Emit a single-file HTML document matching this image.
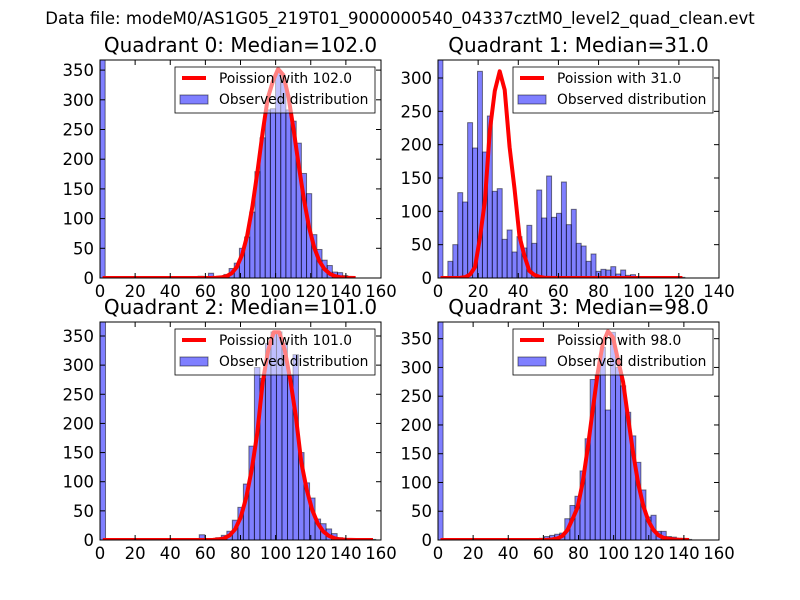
<!DOCTYPE html>
<html><head><meta charset="utf-8"><style>
body{margin:0;background:#fff;}
svg{display:block;font-family:"DejaVu Sans","Liberation Sans",sans-serif;}
</style></head><body>
<svg id="fig" width="800" height="600" viewBox="0 0 800 600">
<rect width="800" height="600" fill="#fff"/>
<text x="400" y="24" font-size="16.5" text-anchor="middle">Data file: modeM0/AS1G05_219T01_9000000540_04337cztM0_level2_quad_clean.evt</text>
</svg>
<script>
// Panel data
const medians = [102, 31, 101, 98];
const binWidths = [2.94, 2.46, 3.14, 2.888];
const xMaxes = [160, 140, 160, 160];
const yMaxes = [367, 327, 374, 379];
const yTickStops = [350, 300, 350, 350];
const curvePeaks = [352, 310, 360, 363];
const counts0 = [367,0,0,0,0,0,0,0,0,0,0,0,0,0,0,0,0,2,2,3,0,8,0,0,6,16,25,50,69,111,179,236,283,285,347,330,283,264,227,176,142,73,48,30,21,10,9,4,0,0];
const counts1 = [327,0,25,50,128,114,233,195,310,189,243,130,134,58,72,39,62,45,79,52,132,90,153,91,97,144,80,103,52,48,25,36,10,13,12,17,6,12,4,5,1,1,0,0,2,1,0,0,0,1];
const counts2 = [374,0,0,0,0,0,0,0,0,0,0,0,0,0,0,0,0,0,9,0,0,4,8,15,34,56,96,161,296,277,337,357,357,337,283,318,150,98,72,36,28,19,11,4,2,1,1,1,1,1];
const counts3 = [379,0,0,0,0,0,0,0,0,0,0,0,0,0,0,0,0,0,0,0,3,6,8,10,12,37,60,76,120,176,279,287,335,226,361,300,268,222,181,135,87,40,43,15,15,6,5,3,2,1];
const allCounts = [counts0, counts1, counts2, counts3];

const NS = "http://www.w3.org/2000/svg";
const svg = document.getElementById('fig');
function mk(tag, attrs, parent){
  const e = document.createElementNS(NS, tag);
  for (const k in attrs) e.setAttribute(k, attrs[k]);
  (parent||svg).appendChild(e);
  return e;
}
function logPmf(k, lam){
  let s = k*Math.log(lam) - lam;
  for (let i=2;i<=k;i++) s -= Math.log(i);
  return s;
}
const boxes = [[100,60],[438,60],[100,322],[438,322]];
const W = 281, H = 218;
for (let p=0;p<4;p++){
  const [L,T] = boxes[p];
  const g = mk('g', {});
  
  
  const xs = v => L + v/xMaxes[p]*W;
  const ys = v => T+H - Math.min(v, yMaxes[p])/yMaxes[p]*H;
  const t = mk('text', {x: L+W/2, y: T-8, 'font-size': 20, 'text-anchor':'middle'}, g);
  t.textContent = 'Quadrant '+p+': Median='+medians[p].toFixed(1);
  
  
  const clip = mk('clipPath', {id:'c'+p}, g);
  mk('rect', {x:L, y:T, width:W, height:H}, clip);
  const bars = mk('g', {'clip-path':'url(#c'+p+')'}, g);
  const w = binWidths[p];
  allCounts[p].forEach((c,i)=>{
    if (c<=0) return;
    const r = mk('rect', {x: xs(i*w), y: ys(c), width: xs((i+1)*w)-xs(i*w), height: T+H-ys(c), fill:'rgba(0,0,255,0.5)', stroke:'rgba(0,0,0,0.5)', 'stroke-width':1}, bars);
    
    
  });
  const lam = medians[p];
  const peakLog = logPmf(Math.floor(lam), lam);
  let pts = [];
  for (let i=0;i<allCounts[p].length;i++){
    const xc = i*w + w/2;
    const v = curvePeaks[p]*Math.exp(logPmf(Math.round(xc), lam) - peakLog);
    pts.push(xs(xc).toFixed(1)+','+ys(v).toFixed(1));
  }
  const pl = mk('polyline', {points: pts.join(' '), fill:'none', stroke:'#ff0000', 'stroke-width':4, 'stroke-linejoin':'round'}, bars);
  
  
  const fr = mk('rect', {x:L, y:T, width:W, height:H, fill:'none', stroke:'#000', 'stroke-width':1}, g);
  
  
  for (let v=0; v<=xMaxes[p]; v+=20){
    const x = xs(v);
    mk('line', {x1:x, x2:x, y1:T+H, y2:T+H-5, stroke:'#000'}, g);
    mk('line', {x1:x, x2:x, y1:T, y2:T+5, stroke:'#000'}, g);
    const tl = mk('text', {x:x, y:T+H+19, 'font-size':16.5, 'text-anchor':'middle'}, g);
    tl.textContent = v;
    
    
  }
  for (let v=0; v<=yTickStops[p]; v+=50){
    const y = ys(v);
    mk('line', {x1:L, x2:L+5, y1:y, y2:y, stroke:'#000'}, g);
    mk('line', {x1:L+W, x2:L+W-5, y1:y, y2:y, stroke:'#000'}, g);
    const tl = mk('text', {x:L-6, y:y+6, 'font-size':16.5, 'text-anchor':'end'}, g);
    tl.textContent = v;
    
    
  }
  const lg = mk('g', {}, g);
  
  
  const lx = L+75, ly = T+7;
  mk('rect', {x:lx, y:ly, width:200, height:46, fill:'rgba(255,255,255,0.5)', stroke:'#000', 'stroke-width':0.8}, lg);
  mk('line', {x1:lx+7, x2:lx+31, y1:ly+11, y2:ly+11, stroke:'#ff0000', 'stroke-width':4}, lg);
  const t1 = mk('text', {x:lx+44, y:ly+16, 'font-size':13.8}, lg);
  t1.textContent = 'Poission with '+medians[p].toFixed(1);
  
  
  mk('rect', {x:lx+5, y:ly+28, width:28, height:9, fill:'rgba(0,0,255,0.5)', stroke:'rgba(0,0,0,0.5)'}, lg);
  const t2 = mk('text', {x:lx+44, y:ly+37, 'font-size':13.8}, lg);
  t2.textContent = 'Observed distribution';
  
  
}
</script>
</body></html>
